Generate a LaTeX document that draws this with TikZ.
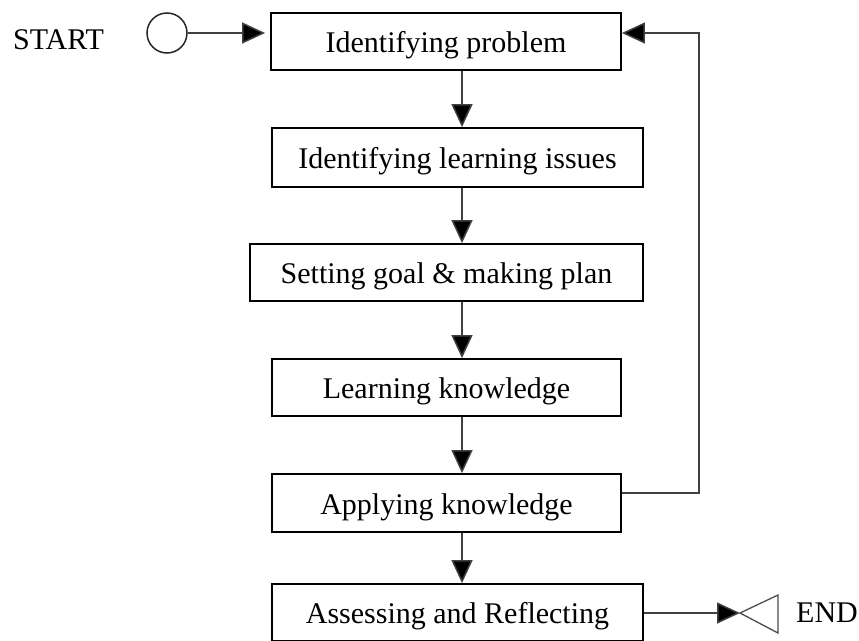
\documentclass[tikz,border=0pt]{standalone}
\usepackage{fontspec}
\setmainfont{Liberation Serif}
\usetikzlibrary{arrows.meta}
\begin{document}
\begin{tikzpicture}[x=1pt,y=-1pt,
  stepbox/.style={draw=black, line width=1.8pt, rectangle, inner sep=0pt,
    minimum height=57pt, text height=24pt, text depth=2pt,
    font=\fontsize{30}{36}\selectfont},
  conn/.style={draw=black!75, line width=1.5pt},
  arr/.style={conn, -{Triangle[length=23pt,width=21pt,fill=black]}},
  lbl/.style={font=\fontsize{30}{36}\selectfont, inner sep=0pt, anchor=base}]
\useasboundingbox (0,0) rectangle (859,640);
\node[stepbox, minimum width=350pt] (b1) at (446,41.5) {Identifying problem};
\node[stepbox, minimum width=371pt, minimum height=59pt] (b2) at (457.5,157.5) {Identifying learning issues};
\node[stepbox, minimum width=393pt] (b3) at (446.5,272.5) {Setting goal \& making plan};
\node[stepbox, minimum width=349pt] (b4) at (446.5,387.5) {Learning knowledge};
\node[stepbox, minimum width=349pt, minimum height=58pt] (b5) at (446.5,503) {Applying knowledge};
\node[stepbox, minimum width=371pt] (b6) at (457.5,612.5) {Assessing and Reflecting};
\node[lbl] (start) at (58.5,49) {START};
\node[lbl] (endl) at (827,622.5) {END};
\node[draw=black!85, line width=1.5pt, circle, minimum size=40pt, inner sep=0pt] (c) at (167,33) {};
\coordinate (ax) at (462,0);
\coordinate (fb) at (699,0);
\coordinate (sy) at (0,33);
\coordinate (fy) at (0,493);
\coordinate (endtip) at (740,613);
% start arrow
\draw[arr, shorten >=5pt] (c.east) -- (b1.west |- sy);
% down arrows
\draw[arr] (b1.south -| ax) -- (b2.north -| ax);
\draw[arr] (b2.south -| ax) -- (b3.north -| ax);
\draw[arr] (b3.south -| ax) -- (b4.north -| ax);
\draw[arr] (b4.south -| ax) -- (b5.north -| ax);
\draw[arr] (b5.south -| ax) -- (b6.north -| ax);
% feedback
\draw[arr] (b5.east |- fy) -- (fb |- fy) -- (fb |- sy) -- (b1.east |- sy);
% end
\draw[arr] (b6.east |- endtip) -- (endtip);
\draw[draw=black!70, line width=1.3pt, line join=miter] (endtip) -- (778,595) -- (778,633) -- cycle;
\end{tikzpicture}
\end{document}
